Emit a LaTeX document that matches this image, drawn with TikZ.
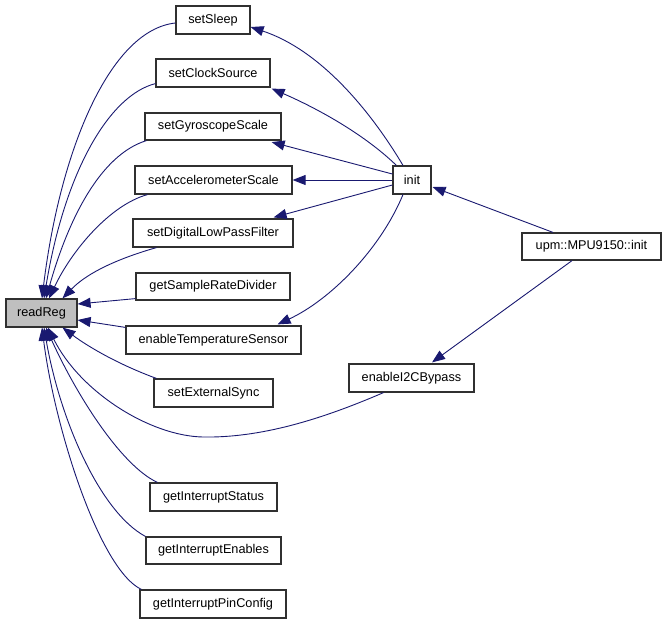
\documentclass[tikz,border=0pt]{standalone}
\usepackage{fontspec}
\setmainfont{Liberation Sans}
\usetikzlibrary{arrows.meta,calc}
\definecolor{edgeblue}{HTML}{191970}
\definecolor{boxline}{HTML}{303030}
\definecolor{hilite}{HTML}{BFBFBF}
\begin{document}
\begin{tikzpicture}[x=1pt,y=-1pt,
  fn/.style={draw=boxline,line width=1.2pt,fill=white,inner sep=0pt,minimum height=28pt,
    font=\fontsize{12.7}{14}\selectfont,text=black},
  call/.style={draw=edgeblue,line width=0.9pt,-{Triangle[length=13pt,width=10pt]},fill=none}]
\useasboundingbox (0,0) rectangle (667,624);

% nodes
\node[fn,minimum width=74pt]  (setSleep)  at (213,20)    {setSleep};
\node[fn,minimum width=114pt] (setClock)  at (213,73)    {setClockSource};
\node[fn,minimum width=136pt,minimum height=27pt] (setGyro) at (213,126.5) {setGyroscopeScale};
\node[fn,minimum width=157pt] (setAccel)  at (213.5,180) {setAccelerometerScale};
\node[fn,minimum width=160pt] (setDLPF)   at (213,233)   {setDigitalLowPassFilter};
\node[fn,minimum width=154pt,minimum height=27pt] (getSRD) at (213,286.5) {getSampleRateDivider};
\node[fn,minimum width=71pt,fill=hilite] (readReg) at (41.5,313) {readReg};
\node[fn,minimum width=175pt] (enTemp)    at (213.5,340) {enableTemperatureSensor};
\node[fn,minimum width=119pt] (setExt)    at (213.5,393) {setExternalSync};
\node[fn,minimum width=127pt] (getIS)     at (213.5,497) {getInterruptStatus};
\node[fn,minimum width=135pt,minimum height=27pt] (getIE) at (213.5,550.5) {getInterruptEnables};
\node[fn,minimum width=146pt] (getIPC)    at (213,604)   {getInterruptPinConfig};
\node[fn,minimum width=38pt]  (init)      at (412,180)   {init};
\node[fn,minimum width=139pt,minimum height=27pt] (upm) at (591.5,246.5) {upm::MPU9150::init};
\node[fn,minimum width=125pt] (enI2C)     at (411.5,378) {enableI2CBypass};

% callers of readReg
\draw[call] ($(setSleep.west)+(0,3)$) .. controls (110,30) and (60,150) .. ($(readReg.north)+(0.5,0)$);
\draw[call] ($(setClock.south west)+(0,-4)$) .. controls (110,95) and (65,170) .. ($(readReg.north)+(2.5,0)$);
\draw[call] ($(setGyro.south west)+(2,0)$) .. controls (100,155) and (68,220) .. ($(readReg.north)+(4.5,0)$);
\draw[call] ($(setAccel.south west)+(13,0)$) .. controls (110,205) and (72,250) .. ($(readReg.north)+(7.5,0)$);
\draw[call] ($(setDLPF.south west)+(24,0)$) .. controls (120,258) and (88,272) .. ($(readReg.north)+(21,0)$);
\draw[call] ($(getSRD.south west)+(0,-2)$) -- ($(readReg.east)+(0,-9)$);
\draw[call] ($(enTemp.north west)+(0,2)$) -- ($(readReg.east)+(0,7)$);
\draw[call] ($(setExt.north west)+(3,0)$) .. controls (120,365) and (90,348) .. ($(readReg.south)+(21,0)$);
\draw[call] ($(enI2C.south)+(-28,0)$) .. controls (320,420) and (260,438) .. (203,437) .. controls (150,436) and (80,392) .. ($(readReg.south)+(6.5,0)$);
\draw[call] ($(getIS.north west)+(8,0)$) .. controls (120,465) and (75,392) .. ($(readReg.south)+(4.5,0)$);
\draw[call] (getIE.north west) .. controls (100,512) and (60,420) .. ($(readReg.south)+(2.5,0)$);
\draw[call] ($(getIPC.north west)+(2,0)$) .. controls (100,570) and (55,430) .. ($(readReg.south)+(0.5,0)$);

% init calls
\draw[call] ($(init.north)+(-9,0)$) .. controls (370,110) and (320,50) .. ($(setSleep.east)+(0,7)$);
\draw[call] ($(init.north west)+(4,0)$) .. controls (362,132) and (312,106) .. ($(setClock.south east)+(1,1)$);
\draw[call] ($(init.west)+(0,-6)$) -- ($(setGyro.south east)+(-10,1.5)$);
\draw[call] (init.west) -- (setAccel.east);
\draw[call] ($(init.west)+(0,5)$) -- ($(setDLPF.north east)+(-20,-1)$);
\draw[call] ($(init.south)+(-9,0)$) .. controls (380,250) and (330,300) .. ($(enTemp.north east)+(-24,-1)$);

% upm::MPU9150::init calls
\draw[call] ($(upm.north)+(-38.5,0)$) -- ($(init.east)+(1,7)$);
\draw[call] ($(upm.south)+(-19.5,0)$) -- ($(enI2C.north)+(20.5,-1)$);
\end{tikzpicture}
\end{document}
